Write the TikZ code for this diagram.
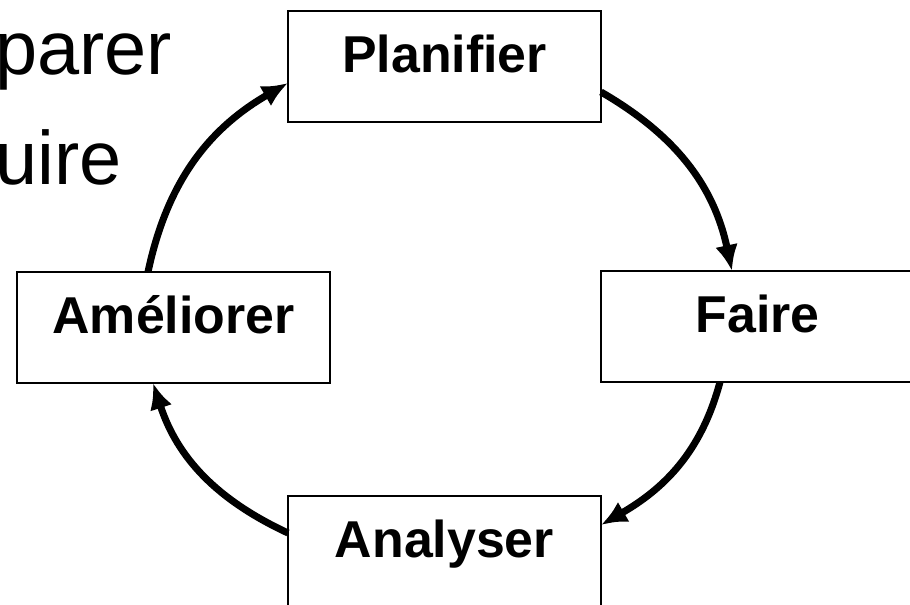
\documentclass[tikz,border=0pt]{standalone}
\usepackage{fontspec}
\setmainfont{Liberation Sans}
\usepackage{tikz}
\usetikzlibrary{positioning,calc,arrows.meta}
\tikzstyle{phase}=[draw,line width=1.1pt,minimum width=6.26cm,inner sep=0pt,outer sep=0pt,text height=1.24cm,text depth=0.98cm,font=\fontsize{29.5}{34}\selectfont\bfseries]
\tikzstyle{flow}=[-{Latex[length=0.52cm,width=0.46cm]},line width=4pt]
\tikzstyle{bigtext}=[anchor=base west,inner sep=0pt,font=\fontsize{43.1}{52}\selectfont]

\begin{document}
\begin{tikzpicture}
\useasboundingbox (0,0) rectangle (18.2,-12.1);
\clip (0,0) rectangle (18.2,-12.1);
\node (prep) [bigtext] at (-0.1,-1.5) {parer};
\node (prod) [bigtext] at (-0.1,-3.7) {uire};

\node (plan) [phase] at (8.89,-1.33) {Planifier};
\node (faire) [phase,below right=2.98cm and 0cm of plan] {Faire};
\node (ame) [phase,below left=3cm and -0.84cm of plan] {Améliorer};
\node (ana) [phase,below=7.48cm of plan] {Analyser};

\draw[flow] ([xshift=-0.51cm]ame.north) to[out=78,in=-150] ([yshift=-0.33cm]plan.west);
\draw[flow] ([yshift=-0.51cm]plan.east) to[out=-30,in=102] ([xshift=-0.51cm]faire.north);
\draw[flow] ([xshift=-0.75cm]faire.south) to[out=-105,in=30] ([yshift=0.53cm]ana.east);
\draw[flow] ([yshift=0.37cm]ana.west) to[out=155,in=-72] ([xshift=-0.41cm]ame.south);
\end{tikzpicture}
\end{document}
